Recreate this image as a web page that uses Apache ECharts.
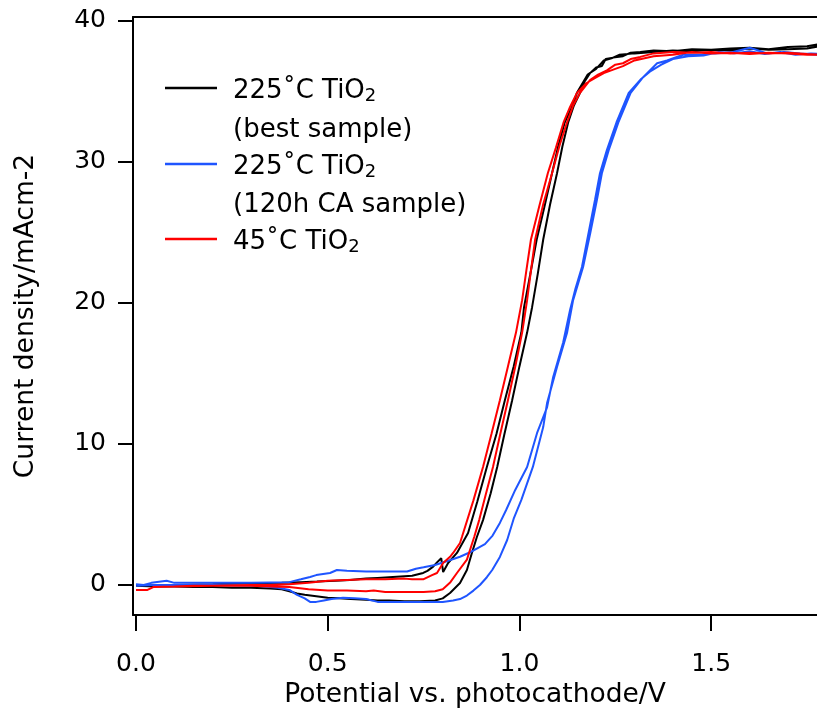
<!DOCTYPE html>
<html>
<head>
<meta charset="utf-8">
<title>Current density vs. potential</title>
<script src="https://cdn.jsdelivr.net/npm/echarts@6/dist/echarts.min.js"></script>
<style>
  html, body {margin: 0; padding: 0; background: #fff;}
  #main {width: 817px; height: 715px;}
</style>
</head>
<body>
<div id="main"></div>
<script>
// tick positions
var xTicks = [0, 0.5, 1.0, 1.5];
var yTicks = [0, 10, 20, 30, 40];

var seriesNames = ['225˚C TiO2 (best sample)', '225˚C TiO2 (120h CA sample)', '45˚C TiO2'];

// 225˚C best sample: out along the lower branch, back along the upper one
var blackV = [0, 0.05, 0.1, 0.15, 0.2, 0.25, 0.3, 0.35, 0.38, 0.40, 0.42, 0.44, 0.47, 0.5, 0.53, 0.56, 0.6, 0.63, 0.66, 0.7, 0.74, 0.78, 0.80,
  0.819, 0.845, 0.863, 0.876, 0.889, 0.905, 0.925, 0.942, 0.96, 0.981, 1.0, 1.02, 1.033, 1.048, 1.062, 1.08, 1.098, 1.112, 1.127, 1.142,
  1.158, 1.17, 1.184, 1.20, 1.215, 1.225, 1.244, 1.27, 1.29, 1.315, 1.35, 1.4, 1.45, 1.5, 1.55, 1.6, 1.65, 1.7, 1.75, 1.78, 1.8,
  1.8, 1.75, 1.7, 1.65, 1.6, 1.55, 1.5, 1.45, 1.4, 1.35, 1.3, 1.26, 1.24, 1.22, 1.2, 1.178, 1.15, 1.135, 1.118, 1.10, 1.085, 1.065,
  1.045, 1.028, 1.012, 1.005, 0.985, 0.962, 0.94, 0.915, 0.89, 0.866, 0.85, 0.837, 0.814, 0.801, 0.796, 0.785, 0.775, 0.76, 0.749,
  0.72, 0.69, 0.66, 0.63, 0.6, 0.558, 0.52, 0.472, 0.43, 0.38, 0.297, 0.2, 0.1, 0];
var blackJ = [-0.05, -0.1, -0.1, -0.15, -0.15, -0.2, -0.2, -0.25, -0.3, -0.45, -0.6, -0.7, -0.8, -0.9, -0.95, -1.0, -1.05, -1.1, -1.1, -1.15, -1.15, -1.1, -0.95,
  -0.57, 0.14, 1.06, 2.27, 3.4, 4.6, 6.5, 8.37, 10.6, 13.1, 15.5, 17.9, 19.7, 22.1, 24.5, 27.0, 29.2, 31.1, 32.8, 34.0,
  34.9, 35.7, 36.3, 36.7, 36.8, 37.3, 37.4, 37.5, 37.75, 37.8, 37.9, 37.85, 38.0, 37.95, 38.05, 38.1, 38.0, 38.15, 38.2, 38.35, 38.3,
  38.2, 38.05, 38.0, 37.95, 38.05, 37.9, 37.95, 37.85, 37.9, 37.8, 37.7, 37.6, 37.35, 37.2, 36.6, 36.2, 34.9, 33.8, 32.8, 31.0, 29.2, 26.8,
  24.5, 22.0, 19.7, 17.9, 15.5, 13.1, 10.7, 8.37, 5.9, 3.69, 2.9, 2.27, 1.56, 0.92, 1.9, 1.6, 1.3, 1.0, 0.85,
  0.65, 0.6, 0.55, 0.5, 0.45, 0.35, 0.3, 0.24, 0.2, 0.15, 0.12, 0.05, 0.0, -0.05];

// 225˚C after 120h CA
var blueV = [0, 0.05, 0.1, 0.2, 0.3, 0.33, 0.37, 0.40, 0.42, 0.44, 0.454, 0.47, 0.49, 0.51, 0.54, 0.57, 0.6, 0.63, 0.66, 0.7, 0.75, 0.8,
  0.827, 0.845, 0.863, 0.88, 0.897, 0.915, 0.929, 0.949, 0.968, 0.985, 1.005, 1.035, 1.062, 1.072, 1.098, 1.124, 1.140, 1.166, 1.185,
  1.202, 1.215, 1.233, 1.258, 1.29, 1.322, 1.359, 1.385, 1.427, 1.471, 1.51, 1.557, 1.601, 1.646, 1.69, 1.732, 1.776, 1.8,
  1.8, 1.76, 1.72, 1.68, 1.64, 1.6, 1.56, 1.52, 1.48, 1.44, 1.4, 1.37, 1.34, 1.318, 1.285, 1.253, 1.228, 1.21, 1.197, 1.163, 1.146,
  1.132, 1.114, 1.088, 1.072, 1.046, 1.020, 0.989, 0.965, 0.949, 0.93, 0.91, 0.87, 0.845, 0.82, 0.78, 0.75, 0.73, 0.707, 0.65, 0.6,
  0.55, 0.524, 0.506, 0.47, 0.454, 0.43, 0.40, 0.3, 0.2, 0.1, 0.08, 0.04, 0.02, 0];
var blueJ = [-0.05, 0.0, 0.0, 0.0, -0.05, -0.1, -0.2, -0.35, -0.7, -0.95, -1.2, -1.2, -1.1, -1.0, -0.9, -0.95, -1.0, -1.2, -1.2, -1.2, -1.2, -1.2,
  -1.1, -1.0, -0.75, -0.4, 0.0, 0.55, 1.06, 1.99, 3.19, 4.7, 6.03, 8.37, 11.2, 12.9, 15.46, 17.87, 20.2, 22.55, 25.0,
  27.3, 29.2, 30.85, 32.8, 34.9, 36.0, 37.0, 37.2, 37.6, 37.6, 37.7, 37.8, 38.1, 37.7, 37.8, 37.7, 37.6, 37.65,
  37.55, 37.7, 37.6, 37.8, 37.65, 37.85, 37.7, 37.8, 37.55, 37.5, 37.3, 36.9, 36.4, 35.9, 34.9, 32.8, 30.85, 29.2, 27.3, 22.55, 21.0,
  19.5, 17.2, 14.75, 12.6, 10.78, 8.37, 6.74, 5.3, 4.4, 3.5, 2.9, 2.3, 2.0, 1.77, 1.42, 1.25, 1.15, 0.95, 0.95, 0.95,
  1.0, 1.06, 0.85, 0.7, 0.57, 0.4, 0.2, 0.15, 0.15, 0.15, 0.3, 0.15, 0.0, 0.05];

// 45˚C
var redV = [0, 0.03, 0.045, 0.1, 0.15, 0.2, 0.25, 0.3, 0.35, 0.4, 0.45, 0.5, 0.55, 0.6, 0.62, 0.65, 0.7, 0.75, 0.78, 0.80,
  0.82, 0.837, 0.863, 0.882, 0.895, 0.912, 0.931, 0.95, 0.970, 0.99, 1.007, 1.020, 1.03, 1.041, 1.062, 1.085, 1.105, 1.124, 1.14,
  1.158, 1.184, 1.205, 1.228, 1.25, 1.27, 1.29, 1.315, 1.35, 1.401, 1.45, 1.5, 1.55, 1.6, 1.65, 1.7, 1.75, 1.8,
  1.8, 1.75, 1.7, 1.65, 1.6, 1.55, 1.5, 1.45, 1.4, 1.35, 1.3, 1.27, 1.25, 1.22, 1.2, 1.175, 1.15, 1.132, 1.115, 1.095, 1.074, 1.052,
  1.030, 1.018, 1.007, 0.991, 0.97, 0.949, 0.927, 0.905, 0.88, 0.85, 0.845, 0.827, 0.819, 0.801, 0.785, 0.772, 0.749, 0.72, 0.7,
  0.65, 0.6, 0.55, 0.5, 0.45, 0.4, 0.35, 0.3, 0.2, 0.1, 0.045, 0.03, 0];
var redJ = [-0.35, -0.35, -0.15, -0.1, -0.05, -0.05, -0.05, -0.05, -0.1, -0.15, -0.3, -0.4, -0.4, -0.45, -0.4, -0.5, -0.5, -0.5, -0.45, -0.3,
  0.2, 0.85, 1.8, 3.4, 4.6, 6.4, 8.37, 10.7, 13.1, 15.6, 17.9, 20.2, 22.3, 24.5, 27.0, 29.2, 31.2, 32.8, 34.0,
  34.9, 35.8, 36.2, 36.5, 36.9, 37.0, 37.3, 37.45, 37.7, 37.8, 37.75, 37.8, 37.7, 37.75, 37.7, 37.75, 37.65, 37.6,
  37.7, 37.6, 37.7, 37.75, 37.65, 37.75, 37.7, 37.8, 37.6, 37.5, 37.2, 36.8, 36.6, 36.3, 36.0, 35.6, 34.9, 33.9, 32.8, 31.0, 29.2, 26.9,
  24.5, 22.3, 20.2, 17.9, 15.5, 13.1, 10.7, 8.37, 6.0, 3.4, 2.98, 2.27, 2.0, 1.56, 0.85, 0.7, 0.4, 0.4, 0.45,
  0.4, 0.4, 0.35, 0.3, 0.15, 0.05, 0.0, 0.0, -0.05, -0.1, -0.15, -0.35, -0.35];

function pairs(v, j) {
  return v.map(function (x, i) { return [x, j[i]]; });
}

var font = 'DejaVu Sans';
var chart = echarts.init(document.getElementById('main'));

function legendFor(name, top) {
  return {
    data: [name],
    left: 165,
    top: top,
    padding: 0,
    icon: 'rect',
    itemWidth: 52,
    itemHeight: 2.5,
    selectedMode: false,
    formatter: function (n) {
      return '{t|' + n.split(' (')[0].replace('TiO2', 'TiO') + '}{s|2}';
    },
    textStyle: {
      color: '#000',
      fontFamily: font,
      fontSize: 26,
      padding: [0, 0, 0, 11],
      rich: {
        t: {fontFamily: font, fontSize: 26, color: '#000', padding: [6, 0, 0, 0]},
        s: {fontFamily: font, fontSize: 18, color: '#000', padding: [16, 0, 0, 0]}
      }
    }
  };
}

var option = {
  animation: false,
  backgroundColor: '#fff',
  grid: {left: 133, right: 0, top: 17, bottom: 100},
  legend: [
    legendFor(seriesNames[0], 78),
    legendFor(seriesNames[1], 154),
    legendFor(seriesNames[2], 229)
  ],
  graphic: [
    {type: 'text', left: 233, top: 117, style: {text: '(best sample)', font: '26px "DejaVu Sans"', fill: '#000'}},
    {type: 'text', left: 233, top: 192, style: {text: '(120h CA sample)', font: '26px "DejaVu Sans"', fill: '#000'}}
  ],
  xAxis: [{
    type: 'value',
    min: -0.0078,
    max: 1.776,
    position: 'bottom',
    name: 'Potential vs. photocathode/V',
    nameLocation: 'middle',
    nameGap: 66,
    nameTextStyle: {fontFamily: font, fontSize: 26.5, color: '#000'},
    axisLine: {show: true, onZero: false, lineStyle: {color: '#000', width: 2}},
    axisTick: {show: true, length: 16, customValues: xTicks, lineStyle: {color: '#000', width: 2}},
    axisLabel: {
      customValues: xTicks, margin: 37, fontFamily: font, fontSize: 25, color: '#000',
      formatter: function (v) { return v.toFixed(1); }
    },
    splitLine: {show: false}
  }, {
    type: 'value',
    min: -0.0078,
    max: 1.776,
    position: 'top',
    axisLine: {show: true, onZero: false, lineStyle: {color: '#000', width: 2}},
    axisTick: {show: false},
    axisLabel: {show: false},
    splitLine: {show: false}
  }],
  yAxis: {
    type: 'value',
    min: -2.13,
    max: 40.28,
    name: 'Current density/mAcm-2',
    nameLocation: 'middle',
    nameGap: 93,
    nameRotate: 90,
    nameTextStyle: {fontFamily: font, fontSize: 26.5, color: '#000'},
    axisLine: {show: true, onZero: false, lineStyle: {color: '#000', width: 2}},
    axisTick: {show: true, length: 15, customValues: yTicks, lineStyle: {color: '#000', width: 2}},
    axisLabel: {customValues: yTicks, margin: 27, fontFamily: font, fontSize: 25, color: '#000'},
    splitLine: {show: false}
  },
  series: [
    {name: seriesNames[0], type: 'line', data: pairs(blackV, blackJ), showSymbol: false, symbol: 'none',
      color: '#000000', lineStyle: {width: 2}},
    {name: seriesNames[1], type: 'line', data: pairs(blueV, blueJ), showSymbol: false, symbol: 'none',
      color: '#1f55ff', lineStyle: {width: 2}},
    {name: seriesNames[2], type: 'line', data: pairs(redV, redJ), showSymbol: false, symbol: 'none',
      color: '#ff0000', lineStyle: {width: 2}}
  ]
};
chart.setOption(option);
</script>
</body>
</html>
